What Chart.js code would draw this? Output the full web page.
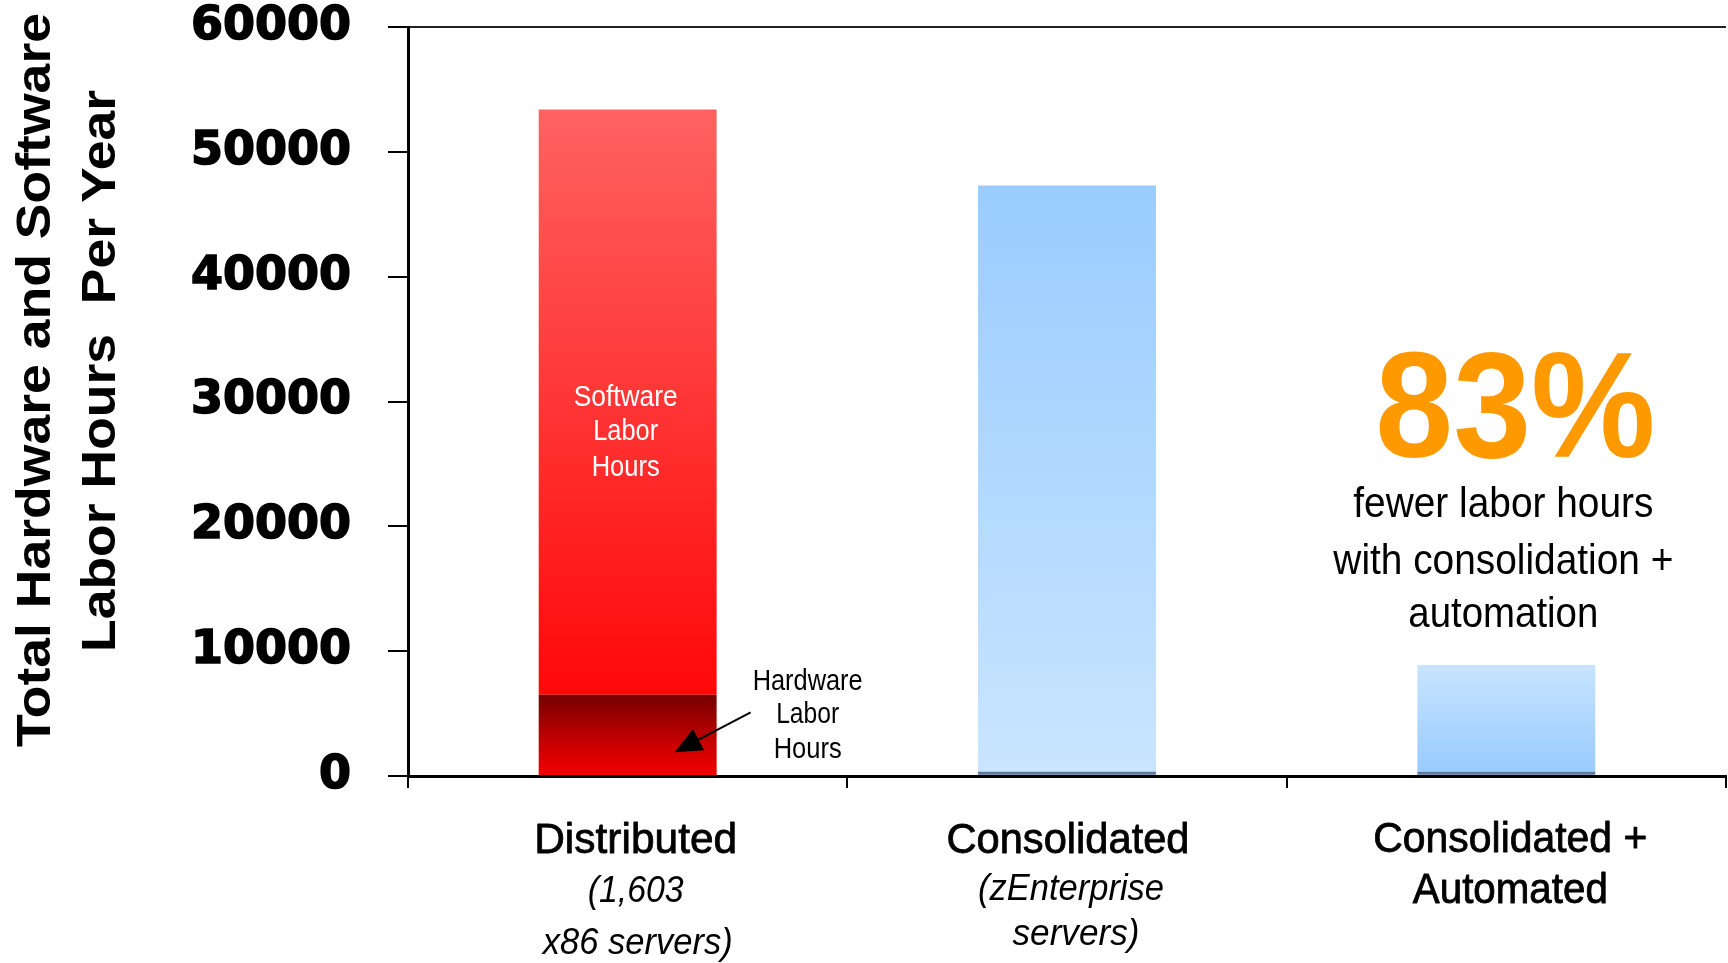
<!DOCTYPE html>
<html>
<head>
<meta charset="utf-8">
<script src="https://cdn.jsdelivr.net/npm/chart.js@4.4.1/dist/chart.umd.min.js"></script>
<style>
  html, body { margin: 0; padding: 0; background: #fff; overflow: hidden; }
  #wrap { width: 1728px; height: 963px; position: relative; }
</style>
</head>
<body>
<div id="wrap"><canvas id="c"></canvas></div>
<script>
// ---- data ----
const categories = ['Distributed', 'Consolidated', 'Consolidated + Automated'];
const categoryLines = [['Distributed'], ['Consolidated'], ['Consolidated +', 'Automated']];
const categoryNotes = [['(1,603', 'x86 servers)'], ['(zEnterprise', 'servers)'], []];
const hardwareHours = [6500, 350, 350];
const softwareHours = [46900, 46950, 8550];
const yTickValues = [0, 10000, 20000, 30000, 40000, 50000, 60000];
const yTitleLines = ['Total Hardware and Software', 'Labor Hours  Per Year'];
const softwareLabel = ['Software', 'Labor', 'Hours'];
const hardwareLabel = ['Hardware', 'Labor', 'Hours'];
const calloutValue = '83%';
const calloutLines = ['fewer labor hours', 'with consolidation +', 'automation'];

// ---- styling ----
const NARROW = '"Liberation Sans Narrow", "Liberation Sans", Arial, sans-serif';
const SANS = '"Liberation Sans", Arial, sans-serif';

// vertical gradient stops (top colour, bottom colour) for each bar
const softwareStops = [
  [[0, '#FF6262'], [1, '#FF0808']],
  [[0, '#99CCFF'], [1, '#C9E5FF']],
  [[0, '#C8E4FF'], [1, '#99CCFF']]
];
const hardwareStops = [
  [[0, '#760000'], [0.6, '#C80000'], [1, '#F40000']],
  [[0, '#56708F'], [0.5, '#6683A8'], [1, '#8DAED6']],
  [[0, '#56708F'], [0.5, '#6683A8'], [1, '#8DAED6']]
];

function segmentGradient(stops, baseOf, topOf) {
  return (ctx) => {
    const chart = ctx.chart;
    const i = ctx.dataIndex;
    if (i === undefined || !chart.chartArea || !chart.scales.y) return stops[0][0][1];
    const y = chart.scales.y;
    const yTop = y.getPixelForValue(topOf(i));
    const yBot = y.getPixelForValue(baseOf(i));
    if (!isFinite(yTop) || !isFinite(yBot) || yTop === yBot) return stops[i][0][1];
    const g = chart.ctx.createLinearGradient(0, yTop, 0, yBot);
    stops[i].forEach(([o, c]) => g.addColorStop(o, c));
    return g;
  };
}

// draws text centred on cx, stretched/condensed to a given width
function fitText(ctx, text, font, color, cx, baseline, width, stroke) {
  ctx.save();
  ctx.font = font;
  ctx.fillStyle = color;
  ctx.textAlign = 'center';
  ctx.textBaseline = 'alphabetic';
  const w = ctx.measureText(text).width;
  ctx.translate(cx, baseline);
  ctx.scale(width / w, 1);
  if (stroke) {
    ctx.strokeStyle = color;
    ctx.lineWidth = stroke;
    ctx.lineJoin = 'round';
    ctx.strokeText(text, 0, 0);
  }
  ctx.fillText(text, 0, 0);
  ctx.restore();
}

function rotatedText(ctx, text, font, color, baselineX, cy, length) {
  ctx.save();
  ctx.font = font;
  ctx.fillStyle = color;
  ctx.textAlign = 'center';
  ctx.textBaseline = 'alphabetic';
  const w = ctx.measureText(text).width;
  ctx.translate(baselineX, cy);
  ctx.rotate(-Math.PI / 2);
  ctx.scale(length / w, 1);
  ctx.fillText(text, 0, 0);
  ctx.restore();
}

const annotations = {
  id: 'annotations',
  afterDraw(chart) {
    const ctx = chart.ctx;
    const x = chart.scales.x;
    const y = chart.scales.y;
    const swMeta = chart.getDatasetMeta(1);
    const hwMeta = chart.getDatasetMeta(0);

    // y axis title (two rotated lines)
    rotatedText(ctx, yTitleLines[0], 'bold 49px ' + SANS, '#000', 50, 380, 734);
    rotatedText(ctx, yTitleLines[1], 'bold 49px ' + SANS, '#000', 115, 371, 562);

    // category labels below the axis
    const catLayout = [
      { dx: 8, lines: [[853, 203]], notes: [[902, 96, 0], [954, 190, 2]] },
      { dx: 1, lines: [[853, 243]], notes: [[900, 186, 3], [945, 127, 8]] },
      { dx: 4, lines: [[852, 274], [903, 195]], notes: [] }
    ];
    categories.forEach((c, i) => {
      const cx = x.getPixelForValue(i) + catLayout[i].dx;
      categoryLines[i].forEach((t, k) => {
        const [b, w] = catLayout[i].lines[k];
        fitText(ctx, t, '42px ' + NARROW, '#000', cx, b, w, 0.8);
      });
      categoryNotes[i].forEach((t, k) => {
        const [b, w, off] = catLayout[i].notes[k];
        fitText(ctx, t, 'italic 36px ' + NARROW, '#000', cx + off, b, w);
      });
    });

    // label inside the software segment of the first bar
    const bar0 = swMeta.data[0];
    const swBase = [406, 440, 476];
    const swW = [104, 65, 68];
    softwareLabel.forEach((t, k) => {
      fitText(ctx, t, '30px ' + NARROW, '#fff', bar0.x - 2, swBase[k], swW[k]);
    });

    // hardware callout with arrow pointing into the first bar
    const hw0 = hwMeta.data[0];
    const hx = hw0.x + 180;
    const hwBase = [690, 723, 758];
    const hwW = [110, 63, 68];
    hardwareLabel.forEach((t, k) => {
      fitText(ctx, t, '30px ' + NARROW, '#000', hx, hwBase[k], hwW[k]);
    });
    const tipX = hw0.x + 47, tipY = y.getPixelForValue(1900);
    const fromX = hw0.x + 123, fromY = tipY - 40;
    const ang = Math.atan2(tipY - fromY, tipX - fromX);
    ctx.save();
    ctx.strokeStyle = '#000';
    ctx.lineWidth = 2;
    ctx.beginPath();
    ctx.moveTo(fromX, fromY);
    ctx.lineTo(tipX - Math.cos(ang) * 20, tipY - Math.sin(ang) * 20);
    ctx.stroke();
    const len = 27, half = 12;
    const bx = tipX - Math.cos(ang) * len, by = tipY - Math.sin(ang) * len;
    ctx.fillStyle = '#000';
    ctx.beginPath();
    ctx.moveTo(tipX, tipY);
    ctx.lineTo(bx + Math.sin(ang) * half, by - Math.cos(ang) * half);
    ctx.lineTo(bx - Math.sin(ang) * half, by + Math.cos(ang) * half);
    ctx.closePath();
    ctx.fill();
    ctx.restore();

    // headline figure over the third category
    const cx3 = x.getPixelForValue(2);
    fitText(ctx, calloutValue, 'bold 150px ' + SANS, '#FF9900', cx3 + 9, 457, 280);
    const cBase = [517, 574, 627];
    const cW = [300, 340, 190];
    calloutLines.forEach((t, k) => {
      fitText(ctx, t, '42px ' + NARROW, '#000', cx3 - 3, cBase[k], cW[k]);
    });
  }
};

new Chart(document.getElementById('c'), {
  type: 'bar',
  data: {
    labels: categories,
    datasets: [
      {
        label: 'Hardware Labor Hours',
        data: hardwareHours,
        backgroundColor: segmentGradient(hardwareStops, () => 0, (i) => hardwareHours[i]),
        borderWidth: 0,
        barPercentage: 0.405,
        categoryPercentage: 1
      },
      {
        label: 'Software Labor Hours',
        data: softwareHours,
        backgroundColor: segmentGradient(softwareStops, (i) => hardwareHours[i], (i) => hardwareHours[i] + softwareHours[i]),
        borderWidth: 0,
        barPercentage: 0.405,
        categoryPercentage: 1
      }
    ]
  },
  options: {
    responsive: true,
    maintainAspectRatio: false,
    animation: false,
    devicePixelRatio: 1,
    layout: { padding: { top: 27, right: 2, left: 0, bottom: 0 } },
    plugins: {
      legend: { display: false },
      tooltip: { enabled: false },
      title: { display: false }
    },
    scales: {
      x: {
        stacked: true,
        ticks: { display: false },
        grid: {
          offset: true,
          drawOnChartArea: false,
          drawTicks: true,
          tickLength: 12,
          color: '#000',
          lineWidth: 2
        },
        border: { display: true, color: '#000', width: 3 },
        afterFit: (s) => { s.height = 187; }
      },
      y: {
        stacked: true,
        min: yTickValues[0],
        max: yTickValues[yTickValues.length - 1],
        afterBuildTicks: (s) => { s.ticks = yTickValues.map((v) => ({ value: v })); },
        ticks: {
          callback: (v) => String(v),
          color: '#000',
          padding: 37,
          textStrokeColor: '#000',
          textStrokeWidth: 1.6,
          font: { family: '"DejaVu Sans", sans-serif', weight: 'bold', size: 46 }
        },
        grid: {
          drawOnChartArea: true,
          drawTicks: true,
          tickLength: 20,
          color: (c) => (c.tick && c.tick.value === yTickValues[yTickValues.length - 1]) ? '#222' : 'rgba(0,0,0,0)',
          tickColor: '#000',
          lineWidth: 2
        },
        border: { display: true, color: '#000', width: 3 },
        afterFit: (s) => {
          s.width = 408;
          // labels sit beside the axis; no extra vertical room needed
          s.paddingTop = 0;
          s.paddingBottom = 0;
        }
      }
    }
  },
  plugins: [annotations]
});
</script>
</body>
</html>
